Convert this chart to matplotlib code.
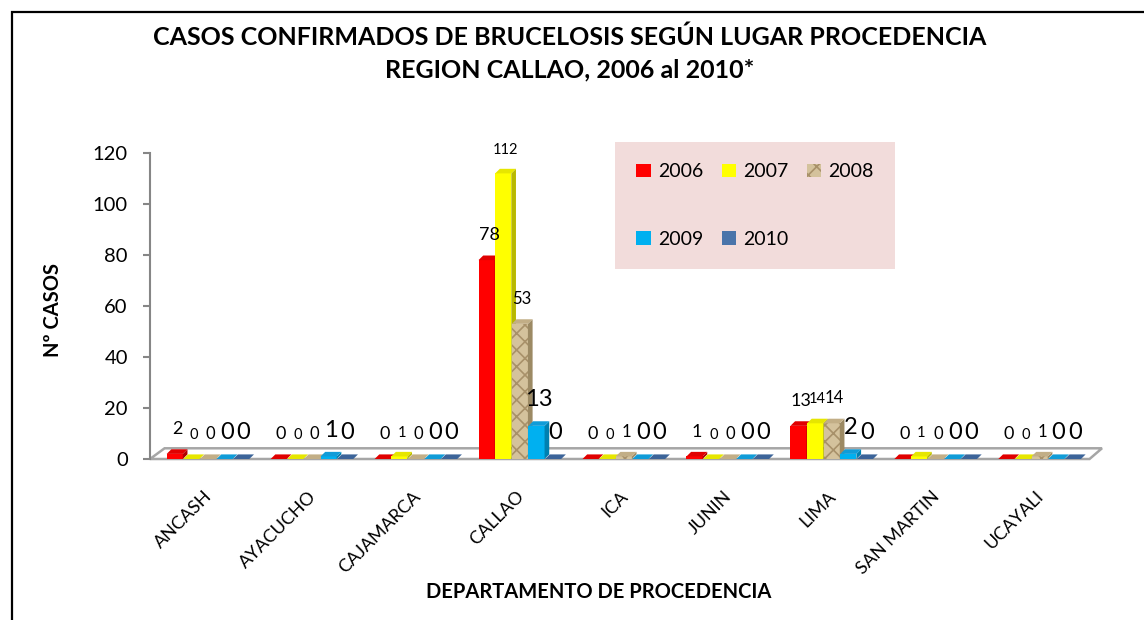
import numpy as np
import matplotlib
matplotlib.use("Agg")
import matplotlib.pyplot as plt
from matplotlib.patches import Rectangle, Patch
from matplotlib.transforms import ScaledTranslation

plt.rcParams['font.family'] = ['Lato', 'DejaVu Sans']
plt.rcParams['hatch.linewidth'] = 1.2

# data
departamentos = ['ANCASH', 'AYACUCHO', 'CAJAMARCA', 'CALLAO', 'ICA',
                 'JUNIN', 'LIMA', 'SAN MARTIN', 'UCAYALI']
anios = ['2006', '2007', '2008', '2009', '2010']
casos_2006 = [2, 0, 0, 78, 0, 1, 13, 0, 0]
casos_2007 = [0, 0, 1, 112, 0, 0, 14, 1, 0]
casos_2008 = [0, 0, 0, 53, 1, 0, 14, 0, 1]
casos_2009 = [0, 1, 0, 13, 0, 0, 2, 0, 0]
casos_2010 = [0, 0, 0, 0, 0, 0, 0, 0, 0]
series = [casos_2006, casos_2007, casos_2008, casos_2009, casos_2010]

# styles
front = ['#FF0000', '#FFFF00', '#D4C29C', '#00B0F0', '#4A74AA']
side = ['#B00000', '#B8B800', '#9C8A64', '#0080B0', '#2E4F7A']
top = ['#E00000', '#E6E600', '#C2AE86', '#109CD8', '#3C6499']
hatches = [None, None, 'xx', None, None]
lbl_size = [13, 10.5, 12, 17, 17]
W = 0.155
DX, DY = 0.045, 1.8

fig = plt.figure(figsize=(11.44, 6.2), dpi=100)
ax = fig.add_axes([150/1144, 161/620, 952/1144, 306/620])
ax.set_xlim(-0.558, 8.6)
ax.set_ylim(0, 120)

x = np.arange(len(departamentos))

# floor of the pseudo 3D plot
x0, x1 = ax.get_xlim()
ax.fill([x0, x0 + 0.14, x1, x1 - 0.12], [0, 4.2, 4.2, 0],
        facecolor='white', edgecolor='#A6A6A6', lw=1.8, zorder=1, clip_on=False)

for k, vals in enumerate(series):
    xs = x + (k - 2) * 0.16
    ax.bar(xs, vals, width=W, color=front[k], hatch=hatches[k],
           edgecolor='#A8916A' if hatches[k] else front[k], lw=0, zorder=2 + k)
    for xc, v in zip(xs, vals):
        l, r = xc - W/2, xc + W/2
        # side face
        ax.fill([r, r + DX, r + DX, r], [0, DY, v + DY, v],
                color=side[k], lw=0, zorder=2 + k)
        # top face
        ax.fill([l, l + DX, r + DX, r], [v, v + DY, v + DY, v],
                color=top[k], lw=0, zorder=2 + k)
        ax.annotate(str(v), (xc + DX/2, v + DY), xytext=(0, 11),
                    textcoords='offset points', ha='center', va='baseline',
                    fontsize=lbl_size[k], zorder=20, annotation_clip=False)

for s in ['top', 'right', 'bottom']:
    ax.spines[s].set_visible(False)
ax.spines['left'].set_color('#868686')
ax.spines['left'].set_linewidth(1.5)
ax.set_yticks(range(0, 121, 20))
ax.tick_params(axis='y', length=5, width=1.5, color='#868686', labelsize=14.5, pad=11)
ax.set_xticks(x)
ax.set_xticklabels(departamentos, rotation=45, ha='right', va='top',
                   rotation_mode='anchor', fontsize=13)
ax.tick_params(axis='x', length=0, pad=21)
for lab in ax.get_xticklabels():
    lab.set_transform(lab.get_transform() + ScaledTranslation(-0.04, 0, fig.dpi_scale_trans))

fig.text(53/1144, 1 - 310/620, 'Nº CASOS', rotation=90, ha='center', va='center',
         fontsize=14.5, fontweight='bold')
fig.text(599/1144, 1 - 592/620, 'DEPARTAMENTO DE PROCEDENCIA', ha='center',
         va='center', fontsize=14.5, fontweight='bold')
fig.text(570/1144, 1 - 37/620, 'CASOS CONFIRMADOS DE BRUCELOSIS SEGÚN LUGAR PROCEDENCIA',
         ha='center', va='center', fontsize=18, fontweight='bold')
fig.text(570/1144, 1 - 70/620, 'REGION CALLAO, 2006 al 2010*',
         ha='center', va='center', fontsize=18, fontweight='bold')

handles = [Patch(facecolor=front[k], hatch=hatches[k], lw=0,
                 edgecolor='#A8916A' if hatches[k] else front[k]) for k in range(5)]
order = [0, 3, 1, 4, 2]
leg = fig.legend([handles[i] for i in order], [anios[i] for i in order], ncol=3,
                 loc='upper left', bbox_to_anchor=(615/1144, 1 - 142/620),
                 fontsize=14, handlelength=0.75, handleheight=0.7,
                 handletextpad=0.35, columnspacing=0.95, labelspacing=2.6,
                 borderpad=1.1, borderaxespad=0, fancybox=False, framealpha=1)
leg.get_frame().set_facecolor('#F2DCDB')
leg.get_frame().set_edgecolor('none')

fig.add_artist(Rectangle((12/1144, -0.1), 1.2, 1.1 - 12/620, transform=fig.transFigure,
                         fill=False, edgecolor='black', lw=1.6, clip_on=False))

fig.savefig('out.png', dpi=100)
